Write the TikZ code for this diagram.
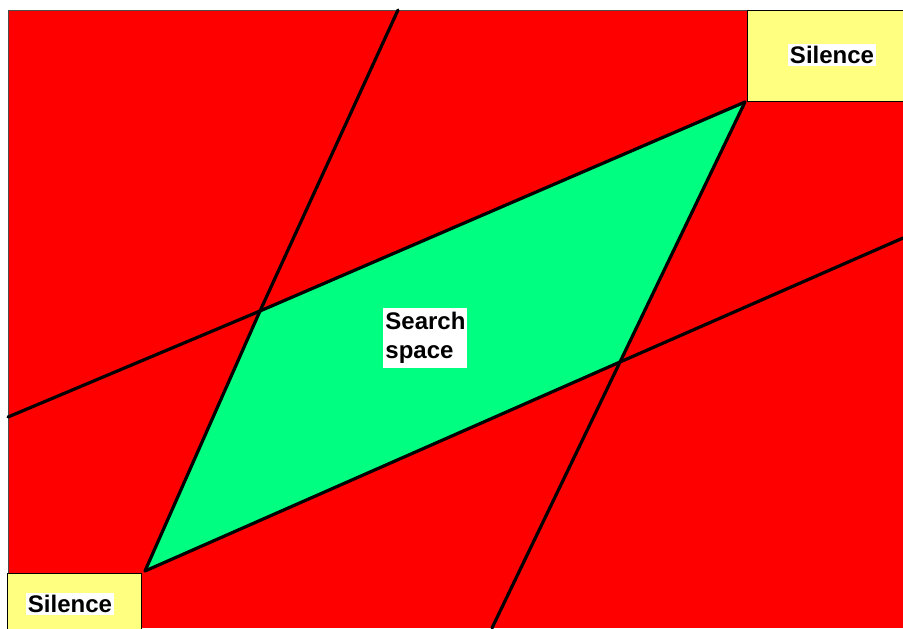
\documentclass[tikz,border=0pt]{standalone}
\usepackage{fontspec}
\setmainfont{Liberation Sans}
\usepackage{xcolor}
\usetikzlibrary{positioning}

\definecolor{zonered}{RGB}{255,0,0}
\definecolor{zonegreen}{RGB}{0,255,128}
\definecolor{zoneyellow}{RGB}{255,255,128}

\begin{document}
\begin{tikzpicture}[
  x=0.5pt, y=-0.5pt,
  every node/.style={font=\fontsize{12}{14.5}\selectfont\bfseries},
  lbl/.style={fill=white, inner sep=1pt, align=left},
  silencebox/.style={draw=black, line width=0.5pt, fill=zoneyellow},
  border/.style={draw=black!70, line width=0.5pt},
  bound/.style={draw=black, line width=1.6pt, line cap=round, line join=round}
]
\useasboundingbox (0,0) rectangle (903,628);

% background of the plane
\fill[zonered] (8,10) rectangle (903,628);
\draw[border] (8,628) -- (8,10) -- (903,10);

% corners of the search region
\coordinate (tl) at (260,311);
\coordinate (ne) at (745,102);
\coordinate (br) at (620,362);
\coordinate (sw) at (145,571);
% free ends of the bounds
\coordinate (wend) at (8,417);
\coordinate (eend) at (903,238);
\coordinate (nend) at (398,10);
\coordinate (send) at (492,628);

\fill[zonegreen] (tl) -- (ne) -- (br) -- (sw) -- cycle;

\filldraw[silencebox] (747,10) rectangle (904,101);
\filldraw[silencebox] (7,573) rectangle (141,629);

\draw[bound] (wend) -- (tl) -- (ne);
\draw[bound] (sw) -- (br) -- (eend);
\draw[bound] (nend) -- (tl) -- (sw);
\draw[bound] (ne) -- (br) -- (send);

\node[lbl] (sil1) at (832,55) {Silence};
\node[lbl] (sil2) at (70,604) {Silence};
\node[lbl, inner ysep=2pt, anchor=north west] (search) at (383,308) {Search\\space};
\end{tikzpicture}
\end{document}
